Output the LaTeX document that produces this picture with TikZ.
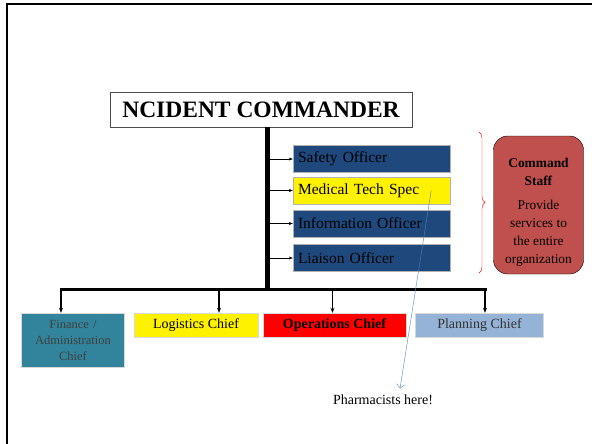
\documentclass[tikz,border=0pt]{standalone}
\usepackage{fontspec}
\setmainfont{Liberation Serif}
\usetikzlibrary{arrows.meta, decorations.pathreplacing}

\definecolor{staffblue}{HTML}{1F497D}
\definecolor{finteal}{HTML}{31849B}
\definecolor{planblue}{HTML}{95B3D7}
\definecolor{cmdred}{HTML}{C0504D}
\definecolor{notEblue}{HTML}{4F81BD}

\begin{document}
\begin{tikzpicture}
	[x=1pt, y=-1pt,%
	staff/.style  ={rectangle,	draw=gray!60,	thin,	inner sep=5pt,	text width=147pt,	minimum height=27pt,	align=left,	font=\fontsize{15.5}{17}\selectfont},%
	chief/.style  ={rectangle,	draw=gray!30,	thin,	inner sep=2pt,	minimum height=24pt,	font=\fontsize{14}{16}\selectfont},%
	toStaff/.style={->,	>={Stealth[length=4pt,width=3pt]},	thin},%
	toChief/.style={->,	>={Stealth[length=5pt,width=4pt]},	line width=1.2pt},%
	]

	\useasboundingbox (0,0) rectangle (592,444);
	\draw [line width=2.5pt] (7,444) -- (7,4) -- (592,4);

	% nodes
	\node (commander) at (261,109.5) [rectangle, draw=black!70, minimum width=302pt, minimum height=35pt, font=\bfseries\fontsize{23.5}{26}\selectfont] {NCIDENT COMMANDER};
	\coordinate (barbot) at (267,289);

	\foreach \n/\t/\y/\c in {safety/Safety Officer/159/staffblue, medical/Medical Tech Spec/190.5/yellow, info/Information Officer/223.5/staffblue, liaison/Liaison Officer/258/staffblue}%
		\node (\n) at (371.5,\y) [staff, fill=\c] {\t};

	\node (finance)    at (73,340)    [chief, fill=finteal, minimum width=103pt, minimum height=54pt, text width=99pt, align=center, text=black!75, font=\fontsize{12.5}{16}\selectfont] {Finance /\\Administration\\Chief};
	\node (logistics)  at (196,325)   [chief, fill=yellow, minimum width=124pt] {Logistics Chief};
	\node (operations) at (334.5,325) [chief, fill=red, minimum width=143pt, font=\bfseries\fontsize{14}{16}\selectfont] {Operations Chief};
	\node (planning)   at (479.5,325) [chief, fill=planblue, minimum width=128pt, text=black!80] {Planning Chief};

	\node (cmdstaff) at (538.5,205) [rectangle, rounded corners=14pt, draw=black, fill=cmdred, minimum width=90pt, minimum height=138pt] {};
	\node (cmdtext)  at (538.5,212) [align=center, font=\fontsize{13.4}{18}\selectfont] {\textbf{Command}\\\textbf{Staff}\\[6pt]Provide\\services to\\the entire\\organization};

	\node (pharm) at (383,400) [font=\fontsize{14}{16}\selectfont] {Pharmacists here!};

	% interconnections
	\draw [line width=5pt] (barbot |- commander.south) -- (barbot);
	\draw [line width=3pt] ([xshift=-13.5pt]finance.north |- barbot) -- ([xshift=7pt]planning.north |- barbot);

	\foreach \n in {safety, medical, info, liaison}%
		\draw [toStaff] (barbot |- \n.west) -- (\n.west);

	\foreach \n/\s in {finance/-12, logistics/23, operations/-2, planning/5.5}%
		\draw [toChief] ([xshift=\s pt]\n.north |- barbot) -- ([xshift=\s pt]\n.north);

	\draw [red, decorate, decoration={brace, amplitude=6pt}] (479,132) -- (479,273);

	\draw [->, >={Straight Barb[length=4pt]}, notEblue] ([xshift=-19pt]medical.east) -- ([xshift=17pt,yshift=3pt]pharm.north);

\end{tikzpicture}
\end{document}
